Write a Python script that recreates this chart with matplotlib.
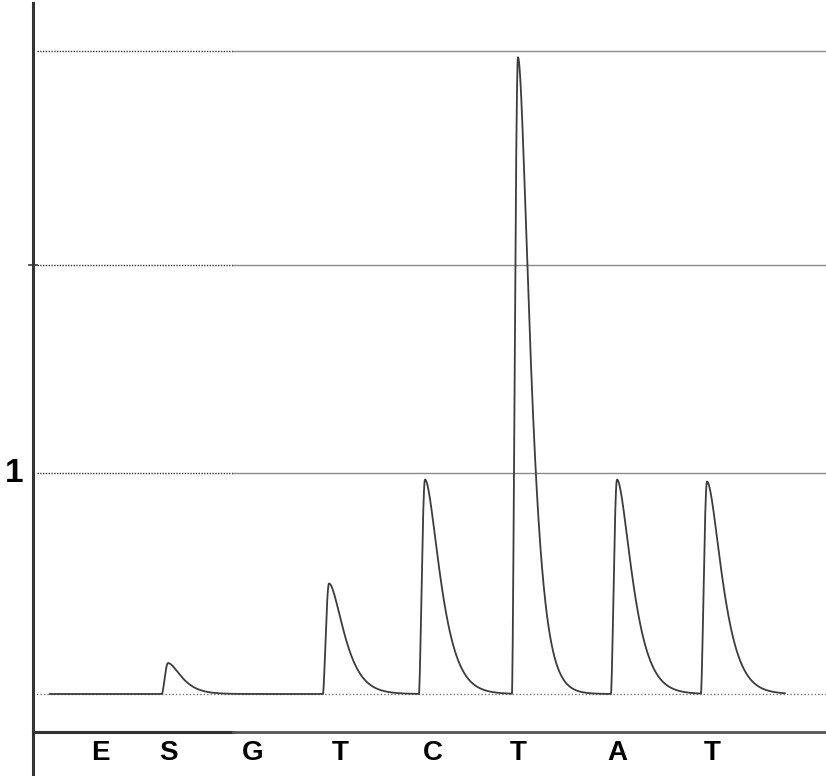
import numpy as np
import matplotlib
matplotlib.use('Agg')
import matplotlib.pyplot as plt

# ---- data ----
dispensation = ['E', 'S', 'G', 'T', 'C', 'T', 'A', 'T']
label_pos = [100, 168, 253, 340, 433, 518, 617, 712]
peak_onset = [162, 323, 419, 512, 611, 701]
peak_height = [0.14, 0.50, 0.97, 2.88, 0.97, 0.96]
peak_decay = [9, 10, 10, 8, 10, 10]
grid_levels = [1.0, 1.94, 2.91]
trace_start, trace_end = 50, 785

# ---- figure geometry (pixel-based) ----
W, H = 826, 776
base_px, unit_px = 694, 221
fig = plt.figure(figsize=(W / 100, H / 100), dpi=100)
ax = fig.add_axes([33 / W, (H - 732) / H, (W - 33) / W, (732 - 3) / H])
ymin = (base_px - 732) / unit_px
ymax = (base_px - 3) / unit_px
ax.set_xlim(33, W)
ax.set_ylim(ymin, ymax)
for s in ax.spines.values():
    s.set_visible(False)
ax.set_xticks([])
ax.set_yticks([])

# grid lines
split = 233
for g in grid_levels:
    ax.plot([37, split], [g, g], color='#333333', lw=1.0, ls=(0, (1, 1)))
    ax.plot([split, W], [g, g], color='#8a8a8a', lw=1.0)
# baseline
ax.plot([33, W], [0, 0], color='#777777', lw=1.0, ls=(0, (1, 1.5)))

# trace
x = np.arange(trace_start, trace_end, 0.25)
y = np.zeros_like(x)
rise = 6.0
for on, h, tau in zip(peak_onset, peak_height, peak_decay):
    t = x - on
    up = (t >= 0) & (t < rise)
    down = t >= rise
    y[up] += h * np.sin(0.5 * np.pi * t[up] / rise) ** 1.5
    td = (t[down] - rise) / tau
    y[down] += h * (1 + td) * np.exp(-td)
ax.plot(x, y, color='#3c3c3c', lw=1.3, solid_joinstyle='round')

# axes lines
yb = (base_px - H) / unit_px
ax.plot([33, 33], [yb, ymax], color='#333333', lw=2.2, clip_on=False)
ax.plot([33, split], [ymin, ymin], color='#333333', lw=2.2, clip_on=False)
ax.plot([split, W], [ymin, ymin], color='#555555', lw=2.0, clip_on=False)
ax.plot([29, 37], [grid_levels[1], grid_levels[1]], color='#333333', lw=1.2, clip_on=False)

# labels
ax.text(14, 1.0, '1', ha='center', va='center',
        fontsize=24, fontweight='bold', family='Liberation Sans', clip_on=False)
yl = (base_px - 753) / unit_px
for lab, px in zip(dispensation, label_pos):
    ax.text(px, yl, lab, ha='center', va='center', fontsize=20,
            fontweight='bold', family='Liberation Sans', clip_on=False)

fig.savefig('out.png', dpi=100)
